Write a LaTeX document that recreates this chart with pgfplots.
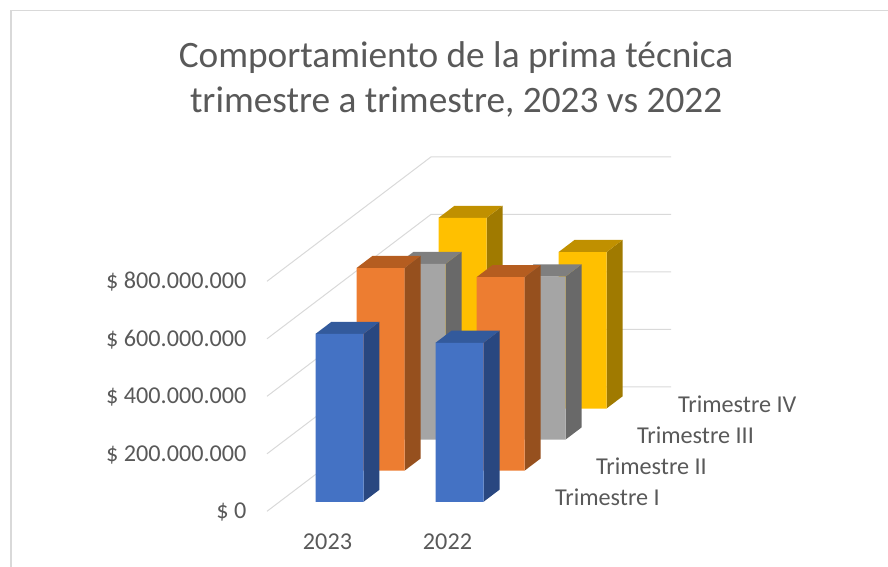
\documentclass[border=0pt]{standalone}
\usepackage{fontspec}
\setmainfont{Carlito}
\usepackage{pgfplots}
\pgfplotsset{compat=1.18}
\definecolor{txt}{HTML}{595959}
\definecolor{gridc}{HTML}{D9D9D9}
\definecolor{bF}{HTML}{4472C4}\definecolor{bS}{HTML}{294780}\definecolor{bT}{HTML}{335A9C}
\definecolor{oF}{HTML}{ED7D31}\definecolor{oS}{HTML}{96501E}\definecolor{oT}{HTML}{B55D20}
\definecolor{gF}{HTML}{A5A5A5}\definecolor{gS}{HTML}{696969}\definecolor{gT}{HTML}{7F7F7F}
\definecolor{yF}{HTML}{FFC000}\definecolor{yS}{HTML}{A07A00}\definecolor{yT}{HTML}{C09000}
% #1,#2 x range; #3,#4 y range; #5 value (millions); #6 colour prefix
\newcommand{\barthree}[6]{%
  \addplot3[draw=none,fill=#6S,forget plot] coordinates {(#2,#3,0)(#2,#4,0)(#2,#4,#5)(#2,#3,#5)(#2,#3,0)};
  \addplot3[draw=none,fill=#6T,forget plot] coordinates {(#1,#3,#5)(#2,#3,#5)(#2,#4,#5)(#1,#4,#5)(#1,#3,#5)};
  \addplot3[draw=none,fill=#6F,forget plot] coordinates {(#1,#3,0)(#2,#3,0)(#2,#3,#5)(#1,#3,#5)(#1,#3,0)};
}
\newcommand{\gridl}[1]{\addplot3[gridc,line width=1pt,forget plot] coordinates {(0,0,#1)(0,4,#1)(2,4,#1)};}
\begin{document}
\begin{tikzpicture}
\useasboundingbox (0,0) rectangle (888pt,567pt);
\draw[gridc,line width=1.2pt] (888pt,556.5pt) -- (11pt,556.5pt) -- (11pt,0pt);
\begin{axis}[
  at={(267pt,55.7pt)},anchor=origin,
  x={(120pt,0pt)},y={(41pt,31.1pt)},z={(0pt,0.2875pt)},
  xmin=0,xmax=2,ymin=0,ymax=4,zmin=0,zmax=800,
  clip=false,
  axis line style={draw=none},
  major tick length=0pt,
  xtick={0.5,1.5},xticklabels={2023,2022},
  ytick={0.5,1.5,2.5,3.5},yticklabels={Trimestre I,Trimestre II,Trimestre III,Trimestre IV},
  ztick={0,200,400,600,800},
  zticklabels={\$ 0,\$ 200.000.000,\$ 400.000.000,\$ 600.000.000,\$ 800.000.000},
  tick label style={font=\fontsize{24.2}{28}\selectfont,text=txt},
  xticklabel style={anchor=center,xshift=0.5pt,yshift=-30pt},
  yticklabel style={anchor=west,xshift=24pt,yshift=-1.5pt},
  zticklabel style={anchor=east,xshift=-17pt,yshift=-0.7pt},
  title={Comportamiento de la prima técnica\\trimestre a trimestre, 2023 vs 2022},
  title style={font=\fontsize{37.3}{45}\selectfont,text=txt,align=center,at={(0.468,1)},anchor=south,yshift=30pt},
]
\gridl{0}\gridl{200}\gridl{400}\gridl{600}\gridl{800}
\barthree{0.3}{0.7}{3.305}{3.695}{663}{y}
\barthree{1.3}{1.7}{3.305}{3.695}{544}{y}
\barthree{0.3}{0.7}{2.305}{2.695}{611}{g}
\barthree{1.3}{1.7}{2.305}{2.695}{567}{g}
\barthree{0.3}{0.7}{1.305}{1.695}{705}{o}
\barthree{1.3}{1.7}{1.305}{1.695}{673}{o}
\barthree{0.3}{0.7}{0.305}{0.695}{584}{b}
\barthree{1.3}{1.7}{0.305}{0.695}{553}{b}
\end{axis}
\end{tikzpicture}
\end{document}
